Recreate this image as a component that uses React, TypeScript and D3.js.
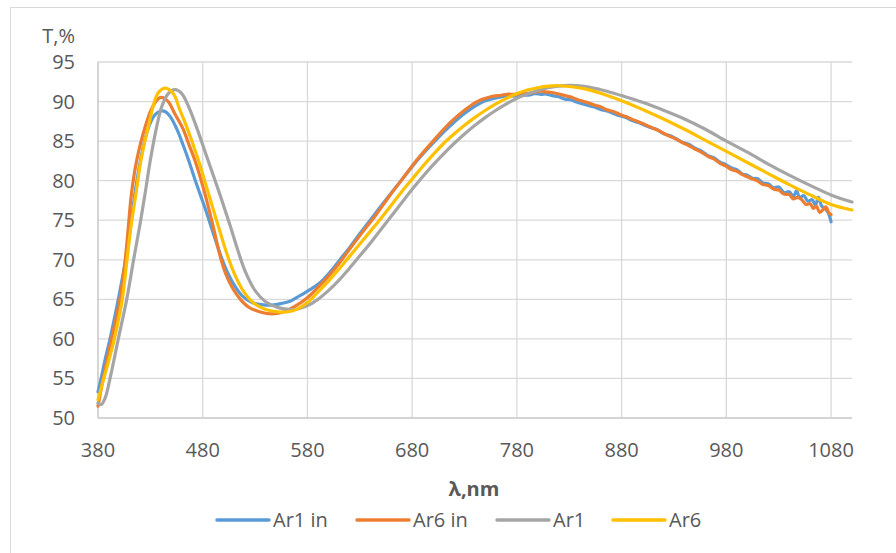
import React from "react";
import * as d3 from "d3";

// Transmission spectra, [wavelength nm, T %]
const ar1In: [number, number][] = [
  [380, 53.3], [383, 55], [387, 57.5], [391.5, 60], [396, 62.8], [400, 65.4], [404, 68.2],
  [408, 71.3], [412, 75.2], [416, 79], [420, 82.2], [425, 85.3], [430, 87.3], [435, 88.4],
  [440, 88.8], [444, 88.75], [449, 88.1], [455, 86.6], [461, 84.6], [467, 82.4], [474, 79.6],
  [482, 76.6], [490, 73.4], [497, 70.6], [504, 68.3], [511, 66.6], [518, 65.4], [527, 64.6],
  [538, 64.3], [548, 64.3], [556, 64.5], [564, 64.8], [572, 65.4], [582, 66.2], [592, 67.1],
  [602, 68.5], [611, 70], [620, 71.5], [630, 73.3], [641, 75.2], [655, 77.6], [670, 80.1],
  [685, 82.6], [703, 85.2], [716, 86.9], [730, 88.5], [748, 90.0], [758, 90.4], [765, 90.6],
  [772, 90.75], [778, 90.7], [785, 90.85], [791, 90.8], [797, 91.0], [803, 90.9], [808, 90.95],
  [814, 90.75], [820, 90.6], [826, 90.3], [831, 90.25], [837, 89.95], [843, 89.7], [848, 89.5],
  [854, 89.3], [860, 89.0], [866, 88.8], [872, 88.5], [878, 88.2], [884, 88.0], [890, 87.6],
  [896, 87.35], [902, 87.0], [908, 86.7], [914, 86.45], [920, 85.95], [926, 85.7], [932, 85.3],
  [938, 84.85], [944, 84.6], [950, 84.1], [956, 83.75], [962, 83.2], [968, 82.9], [974, 82.35],
  [980, 82.0], [985, 81.6], [990, 81.4], [995, 80.85], [1000, 80.7], [1005, 80.3], [1010, 80.25],
  [1015, 79.7], [1020, 79.6], [1025, 79.1], [1030, 79.2], [1035, 78.5], [1040, 78.6], [1044, 78.0],
  [1047, 78.7], [1050, 77.9], [1054, 78.1], [1058, 77.4], [1062, 77.6], [1065, 76.9], [1068, 77.9],
  [1071, 76.8], [1074, 76.5], [1077, 76.0], [1079, 75.3], [1080, 74.8],
];

const ar6In: [number, number][] = [
  [380, 51.5], [385, 55], [393, 60], [401, 65], [406, 70], [409, 74.2], [412, 78.4], [417, 82.6],
  [425, 86.8], [432, 89.3], [438, 90.4], [442, 90.5], [447, 90.0], [454, 88.3], [461, 86.6],
  [467, 84.5], [473, 82.4], [482, 78.4], [490, 74.2], [496, 70.8], [502, 68.2], [509, 66.3],
  [516, 65.0], [524, 64.0], [535, 63.4], [546, 63.15], [557, 63.4], [568, 64.1], [579, 65.1],
  [590, 66.5], [600, 67.9], [610, 69.5], [620, 71.3], [632, 73.4], [645, 75.6], [658, 78.0],
  [670, 80.1], [685, 82.7], [700, 85.0], [716, 87.3], [730, 88.9], [742, 90.0], [755, 90.6],
  [765, 90.8], [772, 90.95], [778, 90.9], [785, 91.1], [791, 91.05], [797, 91.2], [803, 91.3],
  [808, 91.2], [814, 91.15], [820, 90.95], [826, 90.75], [831, 90.6], [837, 90.3], [843, 90.05],
  [848, 89.85], [854, 89.55], [860, 89.35], [866, 88.95], [872, 88.75], [878, 88.4], [884, 88.1],
  [890, 87.75], [896, 87.45], [902, 87.1], [908, 86.75], [914, 86.4], [920, 86.0], [926, 85.6],
  [932, 85.25], [938, 84.8], [944, 84.45], [950, 84.0], [956, 83.6], [962, 83.1], [968, 82.75],
  [974, 82.2], [980, 81.8], [985, 81.4], [990, 81.2], [995, 80.8], [1000, 80.5], [1005, 80.2],
  [1010, 79.95], [1015, 79.5], [1020, 79.4], [1025, 78.95], [1030, 78.8], [1035, 78.3],
  [1040, 78.25], [1044, 77.7], [1048, 77.9], [1052, 77.6], [1056, 77.0], [1060, 77.1],
  [1063, 76.5], [1066, 76.8], [1069, 76.0], [1072, 76.3], [1075, 76.7], [1078, 75.9], [1080, 75.7],
];

const ar1: [number, number][] = [
  [380, 51.9], [383, 51.7], [387, 52.6], [391.5, 55], [399.4, 60], [407.4, 65], [414, 70],
  [420, 74.4], [425, 78.4], [430, 82.6], [436, 86.8], [441, 89.4], [447, 91.0], [453.6, 91.5],
  [460, 91.0], [467, 89.2], [474, 86.8], [485, 82.6], [496, 78.4], [506, 74.4], [514, 71.0],
  [521, 68.4], [530, 66.1], [540, 64.7], [552, 63.95], [565, 63.7], [570, 63.75], [580, 64.2],
  [590, 65.0], [600, 66.1], [610, 67.4], [620, 68.9], [630, 70.5], [640, 72.1], [650, 73.8],
  [660, 75.5], [670, 77.2], [680, 78.9], [690, 80.5], [700, 82.0], [710, 83.4], [720, 84.7],
  [730, 85.9], [740, 87.0], [750, 88.0], [760, 88.9], [770, 89.7], [780, 90.4], [790, 90.95],
  [800, 91.4], [810, 91.75], [820, 91.95], [830, 92.05], [840, 92.0], [850, 91.8], [860, 91.5],
  [870, 91.15], [880, 90.75], [900, 89.9], [920, 88.9], [940, 87.8], [960, 86.5], [980, 85.0],
  [1000, 83.6], [1020, 82.1], [1040, 80.7], [1060, 79.4], [1080, 78.2], [1100, 77.3],
];

const ar6: [number, number][] = [
  [380, 52.3], [385.6, 55], [395.6, 60], [403.2, 65], [407.7, 70], [411.5, 74.2], [416.3, 78.4],
  [421, 82.6], [428, 86.8], [437, 91.0], [444, 91.7], [452, 91.0], [458, 89.0], [464.7, 86.8],
  [475.8, 82.6], [485.4, 78.4], [495, 74.2], [503, 70.8], [510, 68.3], [518, 66.2], [528, 64.6],
  [540, 63.7], [550, 63.45], [560, 63.4], [570, 63.75], [580, 64.6], [590, 65.9], [600, 67.3],
  [610, 68.8], [620, 70.4], [630, 72.0], [640, 73.6], [650, 75.2], [660, 76.9], [670, 78.6],
  [680, 80.2], [690, 81.8], [700, 83.3], [710, 84.7], [720, 85.9], [730, 87.0], [740, 88.0],
  [750, 88.9], [760, 89.7], [770, 90.4], [780, 91.0], [790, 91.45], [800, 91.75], [810, 91.95],
  [820, 92.0], [830, 91.9], [845, 91.6], [860, 91.05], [880, 90.1], [900, 89.0], [920, 87.8],
  [940, 86.5], [960, 85.1], [980, 83.7], [1000, 82.3], [1020, 80.9], [1040, 79.5], [1060, 78.2],
  [1080, 77.0], [1100, 76.3],
];

const seriesNames = ["Ar1 in", "Ar6 in", "Ar1", "Ar6"];
const seriesData = [ar1In, ar6In, ar1, ar6];
const seriesColors = ["#5B9BD5", "#ED7D31", "#A5A5A5", "#FFC000"];

const xTicks = [380, 480, 580, 680, 780, 880, 980, 1080];
const yTicks = [50, 55, 60, 65, 70, 75, 80, 85, 90, 95];

const W = 896;
const H = 553;
const FONT = "'Open Sans', sans-serif";
const TEXT = "#595959";
const GRID = "#d9d9d9";

export default function App() {
  const x = d3.scaleLinear().domain([380, 1100]).range([98, 852]);
  const y = d3.scaleLinear().domain([50, 95]).range([418, 62]);
  const line = d3
    .line<[number, number]>()
    .x((d) => x(d[0]))
    .y((d) => y(d[1]))
    .curve(d3.curveCatmullRom.alpha(0.5));

  const legendX = [217, 357, 497, 613];

  return (
    <svg
      width={W}
      height={H}
      style={{ position: "absolute", left: 0, top: 0, background: "#fff" }}
    >
      <rect x={10.5} y={7.5} width={W + 10} height={H + 10} fill="#fff" stroke={GRID} />

      {/* gridlines */}
      {yTicks.map((t) => (
        <line key={"gy" + t} x1={x(380)} x2={x(1100)} y1={y(t)} y2={y(t)} stroke={GRID} strokeWidth={1.3} />
      ))}
      {xTicks.map((t) => (
        <line key={"gx" + t} x1={x(t)} x2={x(t)} y1={y(95)} y2={y(50)} stroke={GRID} strokeWidth={1.3} />
      ))}
      {/* axes */}
      <line x1={x(380)} x2={x(380)} y1={y(95)} y2={y(50)} stroke="#cfcfcf" strokeWidth={1.5} />
      <line x1={x(380)} x2={x(1100)} y1={y(50)} y2={y(50)} stroke="#cfcfcf" strokeWidth={1.5} />

      {/* tick labels */}
      {yTicks.map((t) => (
        <text key={"ty" + t} x={75} y={y(t)} dy="0.35em" textAnchor="end" fontFamily={FONT} fontSize={20} fill={TEXT}>
          {t}
        </text>
      ))}
      {xTicks.map((t) => (
        <text key={"tx" + t} x={x(t)} y={450} dy="0.35em" textAnchor="middle" fontFamily={FONT} fontSize={20} fill={TEXT}>
          {t}
        </text>
      ))}

      <text x={75} y={36} dy="0.35em" textAnchor="end" fontFamily={FONT} fontSize={20} fill={TEXT}>
        T,%
      </text>
      <text x={474} y={489} dy="0.35em" textAnchor="middle" fontFamily={FONT} fontSize={20} fontWeight="bold" fill={TEXT}>
        λ,nm
      </text>

      {/* series */}
      {seriesData.map((d, i) => (
        <path key={seriesNames[i]} d={line(d) ?? ""} fill="none" stroke={seriesColors[i]} strokeWidth={3.2} strokeLinejoin="round" strokeLinecap="round" />
      ))}

      {/* legend */}
      {seriesNames.map((n, i) => (
        <g key={"lg" + n}>
          <line x1={legendX[i]} x2={legendX[i] + 52} y1={520} y2={520} stroke={seriesColors[i]} strokeWidth={3.5} strokeLinecap="round" />
          <text x={legendX[i] + 56} y={520} dy="0.35em" fontFamily={FONT} fontSize={20} fill={TEXT}>
            {n}
          </text>
        </g>
      ))}
    </svg>
  );
}
